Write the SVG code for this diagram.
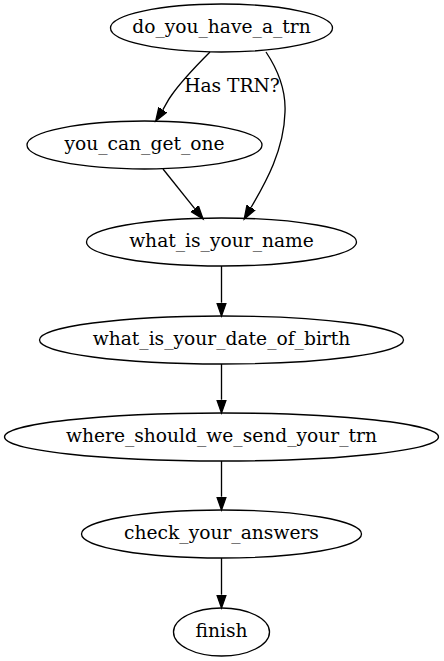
<svg xmlns="http://www.w3.org/2000/svg" width="444" height="661" viewBox="0 0 444 661">
<style>
.n ellipse{fill:none;stroke:#000;stroke-width:1.33}
text{font-family:"DejaVu Serif","Liberation Serif",serif;font-size:18.67px;fill:#000;text-anchor:middle}
.e path{fill:none;stroke:#000;stroke-width:1.33;marker-end:url(#ah)}
</style>
<defs>
<marker id="ah" markerUnits="userSpaceOnUse" markerWidth="16" markerHeight="12" refX="0" refY="6" orient="auto" viewBox="0 0 16 12">
<path d="M0,1.33 L13.33,6 L0,10.67 z" fill="#000" stroke="#000" stroke-width="1.33"/>
</marker>
</defs>
<rect width="444" height="661" fill="#fff"/>
<g id="edges" class="e">
<path d="M210,52 C197,65 180,83 171,96 C168,100 166,104.7 162.8,109.8"/>
<path d="M266,52 C278,70 286,90 285,112 C284,150 266,182 251,207.5"/>
<path d="M163,169 L194.7,208.6"/>
<path d="M221.5,266 L221.5,302.7"/>
<path d="M221.5,364 L221.5,399.7"/>
<path d="M221.5,461 L221.5,496.7"/>
<path d="M221.5,558 L221.5,594.7"/>
<text x="232" y="91.5">Has TRN?</text>
</g>
<g id="do_you_have_a_trn" class="n"><ellipse cx="221.5" cy="28" rx="111" ry="24"/><text x="221.5" y="33.3">do_you_have_a_trn</text></g>
<g id="you_can_get_one" class="n"><ellipse cx="144.5" cy="145" rx="117.5" ry="24"/><text x="144.5" y="150.3">you_can_get_one</text></g>
<g id="what_is_your_name" class="n"><ellipse cx="221.5" cy="242" rx="135" ry="24"/><text x="221.5" y="247.3">what_is_your_name</text></g>
<g id="what_is_your_date_of_birth" class="n"><ellipse cx="221.5" cy="340" rx="182" ry="24"/><text x="221.5" y="345.3">what_is_your_date_of_birth</text></g>
<g id="where_should_we_send_your_trn" class="n"><ellipse cx="221.5" cy="437" rx="217" ry="24"/><text x="221.5" y="442.3">where_should_we_send_your_trn</text></g>
<g id="check_your_answers" class="n"><ellipse cx="221.5" cy="534" rx="140" ry="24"/><text x="221.5" y="539.3">check_your_answers</text></g>
<g id="finish" class="n"><ellipse cx="221.5" cy="632" rx="48" ry="24"/><text x="221.5" y="637.3">finish</text></g>
</svg>
